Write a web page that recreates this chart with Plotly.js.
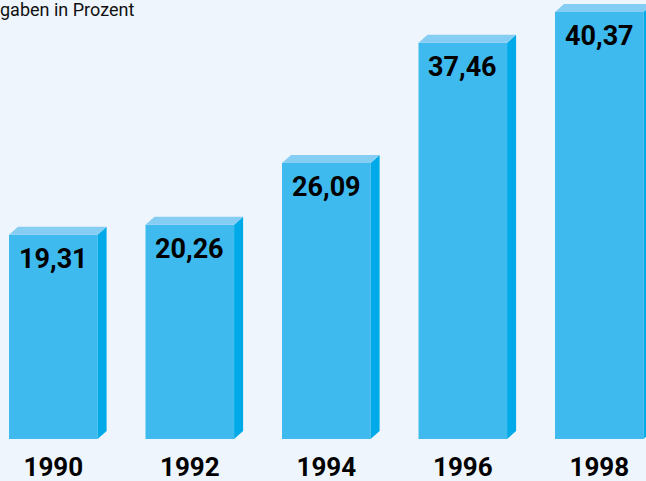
<!DOCTYPE html>
<html>
<head>
<meta charset="utf-8">
<script src="https://cdn.plot.ly/plotly-3.0.1.min.js"></script>
<style>html,body{margin:0;padding:0;background:#eef5fc;}#chart{width:646px;height:481px;}</style>
</head>
<body>
<div id="chart"></div>
<script>
// Data
const years = ['1990', '1992', '1994', '1996', '1998'];
const values = [19.31, 20.26, 26.09, 37.46, 40.37];
const titleText = 'gaben in Prozent';

// Layout geometry
const W = 646, H = 481;
const mL = 0, mR = 0, mT = 0, mB = 42;
const plotW = W - mL - mR, plotH = H - mT - mB;
const xRange = [-0.3905, 4.3421];
const yRange = [0, 41.5];
const barWidth = 0.649;
const pxX = (xRange[1] - xRange[0]) / plotW;
const pxY = (yRange[1] - yRange[0]) / plotH;
const dx = 9 * pxX, dy = 8 * pxY;

const xs = years.map((_, i) => i);

// Faces built from data
const sideX = [], sideY = [], topX = [], topY = [];
xs.forEach((x, i) => {
  const v = values[i];
  const r = x + barWidth / 2, l = x - barWidth / 2;
  sideX.push(r, r + dx, r + dx, r, r, null);
  sideY.push(0, dy, v + dy, v, 0, null);
  topX.push(l, l + dx, r + dx, r, l, null);
  topY.push(v, v + dy, v + dy, v, v, null);
});

const traces = [
  {type: 'bar', x: xs, y: values, width: barWidth,
   marker: {color: 'rgb(62,186,238)', line: {width: 0}}, hoverinfo: 'skip'},
  {type: 'scatter', mode: 'lines', x: sideX, y: sideY, fill: 'toself',
   fillcolor: 'rgb(0,170,232)', line: {width: 0}, hoverinfo: 'skip'},
  {type: 'scatter', mode: 'lines', x: topX, y: topY, fill: 'toself',
   fillcolor: 'rgb(133,205,242)', line: {width: 0}, hoverinfo: 'skip'}
];

const annotations = xs.map((x, i) => ({
  x: x, y: values[i], xref: 'x', yref: 'y',
  text: values[i].toFixed(2).replace('.', ','),
  showarrow: false, xanchor: 'center', yanchor: 'middle', yshift: -24,
  font: {family: 'Roboto', size: 27, weight: 700, color: '#000'}
}));
annotations.push({
  x: 0, y: 1, xref: 'paper', yref: 'paper', xanchor: 'left', yanchor: 'top',
  xshift: -2, yshift: 3, text: titleText, showarrow: false,
  font: {family: 'Roboto', size: 18, color: '#111'}
});

const layout = {
  width: W, height: H,
  margin: {l: mL, r: mR, t: mT, b: mB, pad: 0},
  paper_bgcolor: '#eef5fc', plot_bgcolor: '#eef5fc',
  showlegend: false,
  xaxis: {range: xRange, tickvals: xs, ticktext: years, showgrid: false,
          zeroline: false, showline: false, ticks: '', ticklabelstandoff: 10,
          tickfont: {family: 'Roboto', size: 26, weight: 700, color: '#000'}},
  yaxis: {range: yRange, visible: false, showgrid: false, zeroline: false},
  annotations: annotations,
  hovermode: false
};

Plotly.newPlot('chart', traces, layout, {displayModeBar: false, staticPlot: true});
</script>
</body>
</html>
